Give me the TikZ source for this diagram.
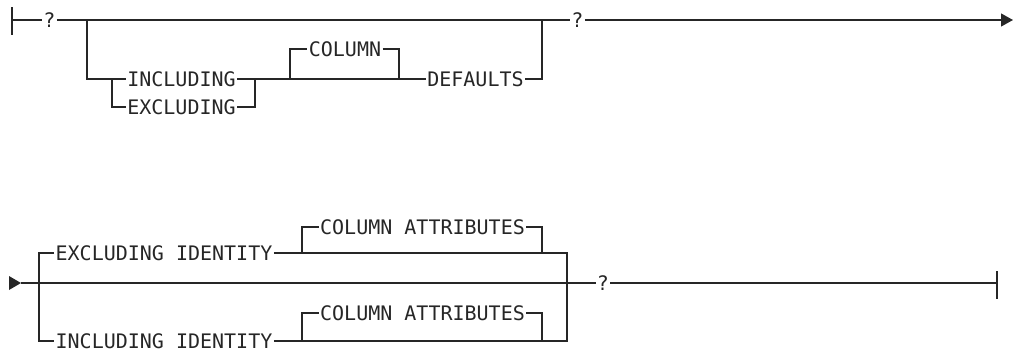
\documentclass[tikz,border=0pt]{standalone}
\usepackage{fontspec}
\setmonofont{DejaVu Sans Mono}
\usetikzlibrary{arrows.meta}
\tikzset{
  rail/.style={line width=1.2pt, draw=black!85},
  lbl/.style={font=\ttfamily\fontsize{20}{24}\selectfont, text=black!85, inner xsep=1.2pt, inner ysep=0pt, text height=14.6pt, text depth=0pt, anchor=center},
  endtip/.style={-{Triangle[length=12pt,width=13pt]}}
}
\begin{document}
\begin{tikzpicture}[x=1pt,y=-1pt]
\useasboundingbox (0,0) rectangle (1013,349);
% labels
\node[lbl] (q1) at (49.5,20) {?};
\node[lbl] (inc) at (181.5,79) {INCLUDING};
\node[lbl] (exc) at (181.5,107) {EXCLUDING};
\node[lbl] (col) at (345,49) {COLUMN};
\node[lbl] (def) at (475.5,79) {DEFAULTS};
\node[lbl] (q2) at (577.5,20) {?};
\node[lbl] (exid) at (164,253) {EXCLUDING IDENTITY};
\node[lbl] (inid) at (164,341) {INCLUDING IDENTITY};
\node[lbl] (ca1) at (422.5,227) {COLUMN ATTRIBUTES};
\node[lbl] (ca2) at (422.5,313) {COLUMN ATTRIBUTES};
\node[lbl] (q3) at (603,283) {?};
% coordinates
\coordinate (s1) at (12,20);
\coordinate (s1t) at (12,7);
\coordinate (s1b) at (12,35);
\coordinate (e1) at (1013,20);
\coordinate (b1) at (87,20);
\coordinate (b2) at (112,79);
\coordinate (m1) at (255,79);
\coordinate (c1) at (290,79);
\coordinate (c2) at (399,79);
\coordinate (m2) at (542,20);
\coordinate (s2) at (21,283);
\coordinate (s2t) at (9,276);
\coordinate (s2b) at (9,290);
\coordinate (e2) at (997,283);
\coordinate (e2t) at (997,271);
\coordinate (e2b) at (997,299);
\coordinate (b3) at (39,283);
\coordinate (m3) at (567,283);
\coordinate (d1) at (302,253);
\coordinate (d2) at (542,253);
\coordinate (d3) at (302,341);
\coordinate (d4) at (542,341);
% top row
\draw[rail] (s1t) -- (s1b);
\draw[rail] (s1) -- (q1.west);
\draw[rail] (q1.east) -- (q2.west);
\draw[rail,endtip] (q2.east) -- (e1);
\draw[rail] (b1) |- (inc.west);
\draw[rail] (b2) |- (exc.west);
\draw[rail] (inc.east) -- (def.west);
\draw[rail] (exc.east) -| (m1);
\draw[rail] (c1) |- (col.west);
\draw[rail] (col.east) -| (c2);
\draw[rail] (def.east) -| (m2);
% bottom row
\fill[black!85] (s2t) -- (s2) -- (s2b) -- cycle;
\draw[rail] (s2) -- (q3.west);
\draw[rail] (q3.east) -- (e2);
\draw[rail] (e2t) -- (e2b);
\draw[rail] (exid.west) -| (b3) |- (inid.west);
\draw[rail] (exid.east) -| (m3);
\draw[rail] (inid.east) -| (m3);
\draw[rail] (d1) |- (ca1.west);
\draw[rail] (ca1.east) -| (d2);
\draw[rail] (d3) |- (ca2.west);
\draw[rail] (ca2.east) -| (d4);
\end{tikzpicture}
\end{document}
